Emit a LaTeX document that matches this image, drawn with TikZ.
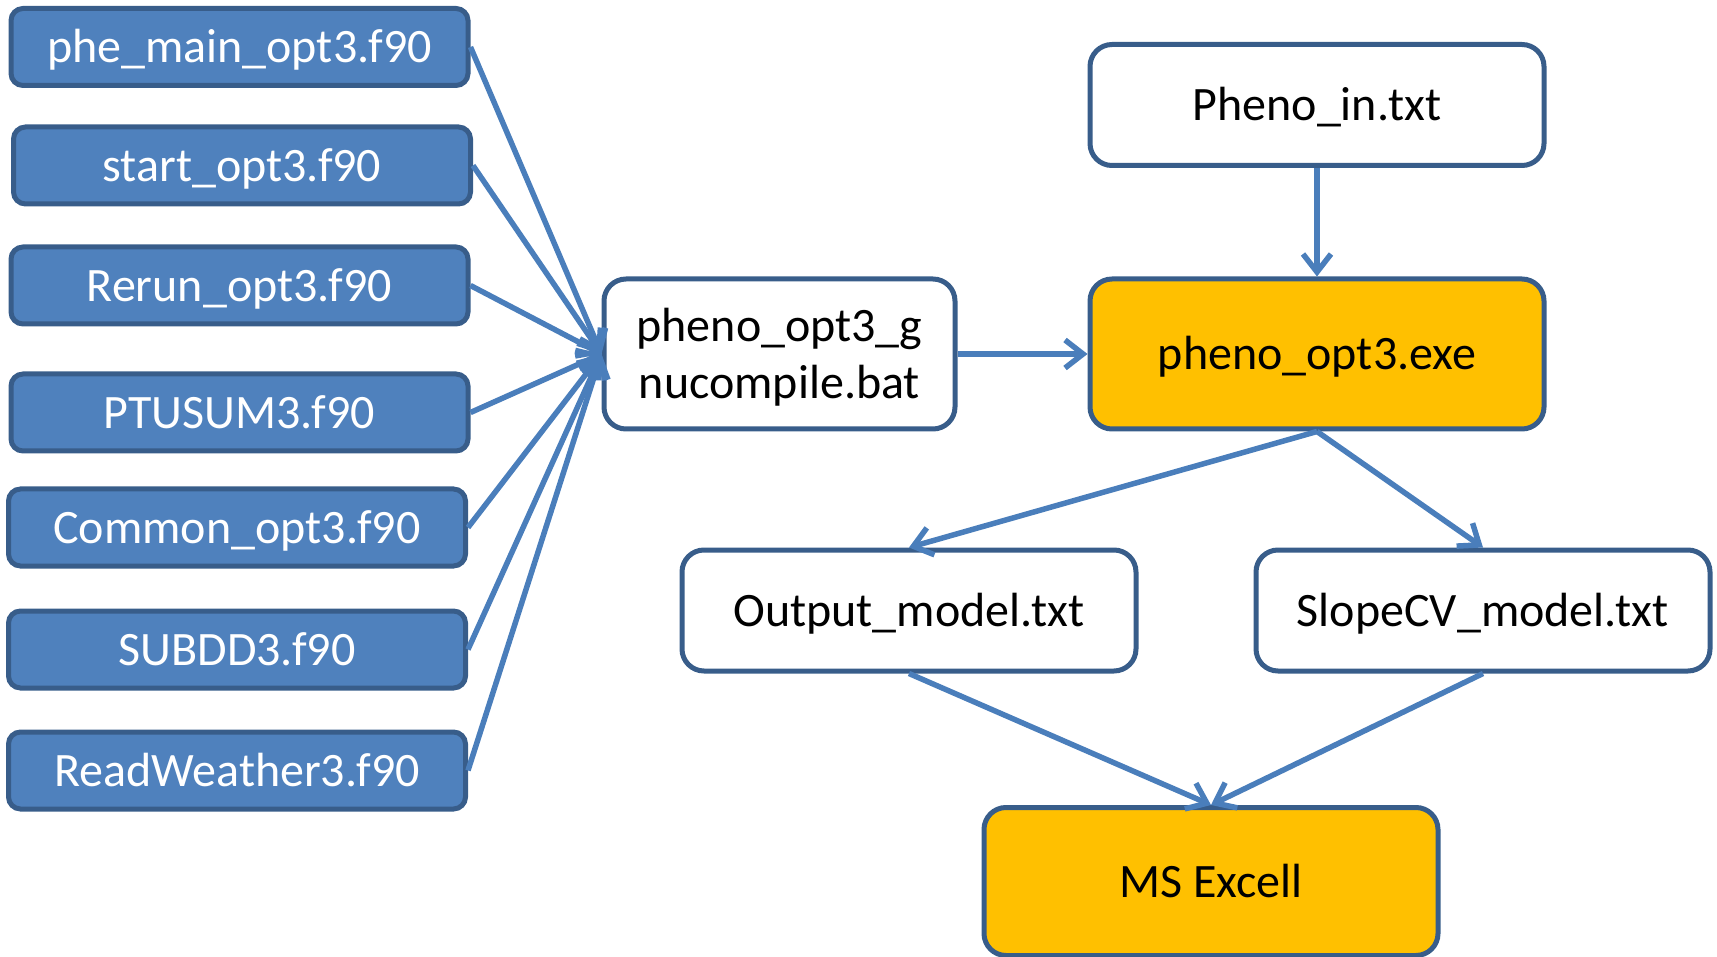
\documentclass[tikz,border=0pt]{standalone}
\usepackage{fontspec}
\setmainfont{Carlito}
\usepackage{tikz}
\usetikzlibrary{arrows.meta,shapes}
\tikzset{>={Straight Barb[length=18pt,width=28pt]}}
\definecolor{srcBlue}{HTML}{4F81BD}
\definecolor{edgeBlue}{HTML}{385D8A}
\definecolor{arrBlue}{HTML}{4A7EBB}
\definecolor{exeGold}{HTML}{FFC000}
\tikzstyle{src}  = [rectangle,rounded corners=12pt,draw=edgeBlue,line width=5pt,fill=srcBlue,text=white,minimum width=457pt,minimum height=77pt]
\tikzstyle{file} = [rectangle,rounded corners=22pt,draw=edgeBlue,line width=5pt,fill=white,minimum width=454pt,minimum height=121pt]
\tikzstyle{prog} = [file,fill=exeGold]
\tikzstyle{flow} = [->,draw=arrBlue,line width=5.5pt]

\begin{document}
\begin{tikzpicture}[x=1pt,y=-1pt,every node/.style={font=\fontsize{48}{57}\selectfont,text height=42pt,text depth=10pt}]
	\useasboundingbox (0,0) rectangle (1717,957);
	
	\node[src] (main)    at (239.5,47)  {phe\_main\_opt3.f90};
	\node[src] (start)   at (242,165.5) {start\_opt3.f90};
	\node[src] (rerun)   at (239.5,285.5) {Rerun\_opt3.f90};
	\node[src] (ptusum)  at (239.5,412.5) {PTUSUM3.f90};
	\node[src] (common)  at (237,527.5) {Common\_opt3.f90};
	\node[src] (subdd)   at (237,649.5) {SUBDD3.f90};
	\node[src] (weather) at (237,770.5) {ReadWeather3.f90};
	
	\node[file,minimum width=351pt,minimum height=150pt,align=center,text height=99pt] (bat) at (779.5,354) {pheno\_opt3\_g\\nucompile.bat};
	
	\node[file] (phenoin) at (1317,105) {Pheno\_in.txt};
	\node[prog,minimum height=150pt] (exe) at (1317,354) {pheno\_opt3.exe};
	
	\node[file] (output) at (909,610.5)  {Output\_model.txt};
	\node[file] (slope)  at (1483,610.5) {SlopeCV\_model.txt};
	
	\node[prog,minimum height=148pt] (excel) at (1211,881.5) {MS Excell};
	
	
	\path (main.east)    edge[flow] (bat.west);
	\path (start.east)   edge[flow] (bat.west);
	\path (rerun.east)   edge[flow] (bat.west);
	\path (ptusum.east)  edge[flow] (bat.west);
	\path (common.east)  edge[flow] (bat.west);
	\path (subdd.east)   edge[flow] (bat.west);
	\path (weather.east) edge[flow] (bat.west);
	
	\path (bat) edge[flow] (exe);
	\path (phenoin) edge[flow] (exe);
	
	\path (exe.south) edge[flow] (output.north);
	\path (exe.south) edge[flow] (slope.north);
	\path (output.south) edge[flow] (excel.north);
	\path (slope.south) edge[flow] (excel.north);
\end{tikzpicture}
\end{document}
